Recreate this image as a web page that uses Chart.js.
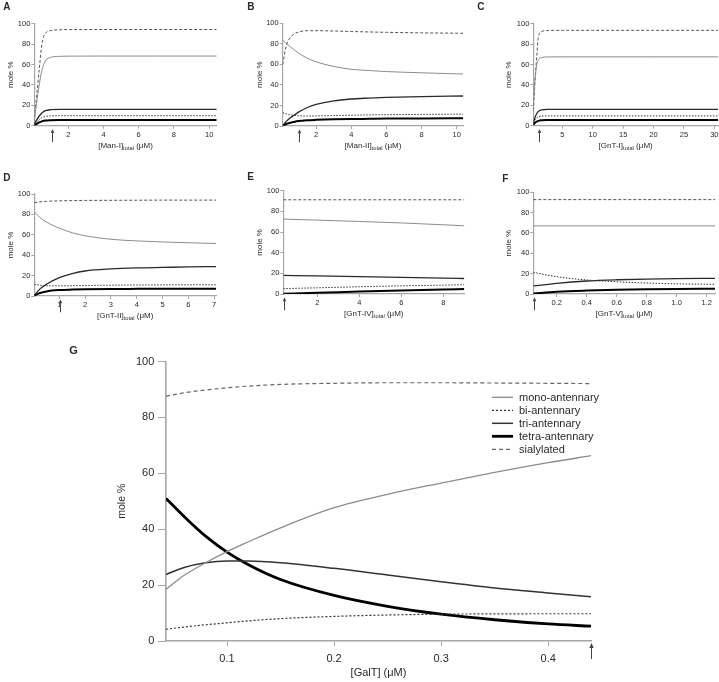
<!DOCTYPE html>
<html>
<head>
<meta charset="utf-8">
<script src="https://cdn.jsdelivr.net/npm/chart.js@4.4.1/dist/chart.umd.min.js"></script>
<style>
  body { margin: 0; background: #fff; }
  #wrap { position: relative; width: 719px; height: 682px; overflow: hidden; }
  canvas { position: absolute; }
</style>
</head>
<body>
<div id="wrap"></div>
<script>
// ---- data (mole %) ----
const seriesNames = ['mono-antennary', 'bi-antennary', 'tri-antennary', 'tetra-antennary', 'sialylated'];
const yTicks = [0, 20, 40, 60, 80, 100];

// A: Man-I
const aX     = [0.07, 0.2, 0.35, 0.5, 0.7, 1.0, 1.5, 2, 4, 7, 10.43];
const aMono  = [5, 22, 40, 54, 63.5, 67, 68, 68.2, 68.3, 68.3, 68.3];
const aBi    = [1, 3.5, 6, 7.8, 9, 9.6, 9.8, 9.8, 9.8, 9.8, 9.8];
const aTri   = [1.5, 5.5, 9.5, 12.5, 14.7, 15.7, 16, 16, 16, 16, 16];
const aTetra = [0.5, 1.8, 3.2, 4.2, 5, 5.4, 5.6, 5.6, 5.6, 5.6, 5.6];
const aSial  = [8, 28, 55, 80, 90.5, 93.2, 94, 94.2, 94.3, 94.3, 94.3];
const aTicks = [2, 4, 6, 8, 10];

// B: Man-II
const bX     = [0.1, 0.3, 0.5, 0.7, 1.0, 1.5, 2, 3, 4, 5, 6, 8, 10.37];
const bMono  = [83.5, 80.5, 77.5, 75, 71, 66, 62.5, 58, 55.2, 54, 53, 51.8, 50.6];
const bBi    = [13, 12, 11, 10.5, 10, 9.7, 9.8, 10.2, 10.5, 10.8, 11, 11.3, 11.5];
const bTri   = [0.5, 4.5, 7.5, 10, 13.5, 18, 21, 24.5, 26.3, 27.2, 27.9, 28.7, 29.2];
const bTetra = [0.5, 2, 3, 3.8, 4.8, 5.6, 6, 6.5, 6.8, 7, 7.2, 7.4, 7.5];
const bSial  = [60, 78, 85.5, 89, 91.5, 92.8, 92.8, 92.5, 92, 91.6, 91.2, 90.7, 90.3];
const bTicks = [2, 4, 6, 8, 10];

// C: GnT-I
const cX     = [0.23, 0.5, 0.8, 1.06, 1.6, 2.5, 5, 10, 20, 30.6];
const cMono  = [22, 45, 60, 64.5, 66.8, 67.4, 67.5, 67.5, 67.5, 67.5];
const cBi    = [2.5, 5.5, 7.8, 8.8, 9.5, 9.6, 9.6, 9.6, 9.6, 9.6];
const cTri   = [3, 8, 12, 14, 15.5, 16, 16, 16, 16, 16];
const cTetra = [1, 2.8, 4, 4.7, 5.3, 5.5, 5.5, 5.5, 5.5, 5.5];
const cSial  = [15, 42, 68, 87, 92.3, 93.3, 93.5, 93.5, 93.5, 93.5];
const cTicks = [5, 10, 15, 20, 25, 30];

// D: GnT-II
const dX     = [0.03, 0.25, 0.5, 1, 1.5, 2, 3, 4, 5, 6, 7.07];
const dMono  = [82.5, 77, 72.5, 66.5, 62, 59, 55.6, 54, 53, 52.2, 51.5];
const dBi    = [11.5, 10.6, 10.1, 10, 10.1, 10.3, 10.6, 10.8, 10.9, 11, 11];
const dTri   = [0.5, 7, 11.5, 18, 22, 24.5, 26.5, 27.5, 28, 28.5, 28.8];
const dTetra = [0.5, 3, 4.5, 5.8, 6.3, 6.6, 6.9, 7, 7.1, 7.2, 7.2];
const dSial  = [91.5, 92.3, 92.8, 93.3, 93.5, 93.7, 93.8, 93.9, 94, 94, 94];
const dTicks = [1, 2, 3, 4, 5, 6, 7];

// E: GnT-IV
const eX     = [0.38, 2, 4, 6, 8, 9];
const eMono  = [72.5, 71.5, 70.2, 68.8, 67, 66];
const eBi    = [5.2, 6, 7, 7.9, 8.6, 9];
const eTri   = [18, 17.6, 16.9, 16.1, 15.3, 15];
const eTetra = [0.3, 1.2, 2.4, 3.5, 4.4, 4.8];
const eSial  = [91.2, 91.2, 91.2, 91.2, 91.2, 91.2];
const eTicks = [2, 4, 6, 8];

// F: GnT-V
const fX     = [0.044, 0.2, 0.4, 0.6, 0.8, 1.0, 1.255];
const fMono  = [67, 67, 67, 67, 67, 67, 67];
const fBi    = [21.3, 17, 13.8, 12, 10.8, 10, 9.5];
const fTri   = [7.9, 10.5, 12.8, 14, 14.7, 15.1, 15.4];
const fTetra = [0.5, 2.2, 3.4, 4.2, 4.7, 5, 5.2];
const fSial  = [92.8, 92.8, 92.8, 92.8, 92.8, 92.8, 92.8];
const fTicks = [0.2, 0.4, 0.6, 0.8, 1.0, 1.2];

// G: GalT
const gX     = [0.043, 0.06, 0.08, 0.1, 0.12, 0.15, 0.2, 0.25, 0.3, 0.35, 0.4, 0.44];
const gMono  = [18.5, 23.5, 28, 32, 35.5, 40.5, 47.7, 52.5, 56.5, 60.3, 63.8, 66.3];
const gBi    = [4.2, 5.0, 5.8, 6.5, 7.2, 8.0, 8.8, 9.3, 9.6, 9.7, 9.75, 9.75];
const gTri   = [23.8, 26.3, 28, 28.6, 28.6, 28, 26, 23.6, 21.2, 19, 17.2, 15.8];
const gTetra = [51, 44.5, 37.5, 31.8, 27.3, 22, 16.3, 12.4, 9.6, 7.6, 6.1, 5.3];
const gSial  = [87.6, 88.8, 89.8, 90.6, 91.2, 91.8, 92.2, 92.4, 92.4, 92.3, 92.2, 92.1];
const gTicks = [0.1, 0.2, 0.3, 0.4];

const FONT = '"Liberation Sans", Arial, Helvetica, sans-serif';
const AXIS = '#a6a6a6';
const INK = '#2a2a2a';

// line looks for small panels and for G
const smallStyle = [
  { color: '#8c8c8c', width: 1,   dash: [] },
  { color: '#333',    width: 1,   dash: [1.5, 1.5] },
  { color: '#2a2a2a', width: 1.3, dash: [] },
  { color: '#000',    width: 2,   dash: [] },
  { color: '#555',    width: 1,   dash: [3, 2] },
];
const bigStyle = [
  { color: '#8c8c8c', width: 1.3, dash: [] },
  { color: '#333',    width: 1.2, dash: [2, 2] },
  { color: '#333',    width: 1.5, dash: [] },
  { color: '#000',    width: 2.8, dash: [] },
  { color: '#666',    width: 1.2, dash: [4, 3] },
];

// box = canvas [left, top, width, height]; area = plot rect in page coords
const panels = [
  { letter: 'A', name: 'Man-I',  xs: aX, ys: [aMono, aBi, aTri, aTetra, aSial], ticks: aTicks, min: 0.07, max: 10.43, arrow: 1.06,
    box: [0, 0, 235, 170], area: [34.3, 23.7, 216.7, 125.7], letterPos: [3.3, 10], yTitleX: 11 },
  { letter: 'B', name: 'Man-II', xs: bX, ys: [bMono, bBi, bTri, bTetra, bSial], ticks: bTicks, min: 0.1, max: 10.37, arrow: 1.05,
    box: [235, 0, 235, 170], area: [282.7, 23.3, 463.3, 126], letterPos: [12.3, 9.5], yTitleX: 25 },
  { letter: 'C', name: 'GnT-I',  xs: cX, ys: [cMono, cBi, cTri, cTetra, cSial], ticks: cTicks, min: 0.23, max: 30.6, arrow: 1.17,
    box: [470, 0, 249, 170], area: [533.3, 23.7, 718, 125.7], letterPos: [7.3, 9.7], yTitleX: 39 },
  { letter: 'D', name: 'GnT-II', xs: dX, ys: [dMono, dBi, dTri, dTetra, dSial], ticks: dTicks, min: 0.03, max: 7.07, arrow: 1.03,
    box: [0, 170, 235, 170], area: [34.3, 194, 216, 296], letterPos: [3.3, 10.7], yTitleX: 11 },
  { letter: 'E', name: 'GnT-IV', xs: eX, ys: [eMono, eBi, eTri, eTetra, eSial], ticks: eTicks, min: 0.38, max: 9.0, arrow: 0.4,
    box: [235, 170, 235, 170], area: [283.3, 190.7, 464.3, 294], letterPos: [12.3, 10], yTitleX: 25 },
  { letter: 'F', name: 'GnT-V',  xs: fX, ys: [fMono, fBi, fTri, fTetra, fSial], ticks: fTicks, min: 0.044, max: 1.255, arrow: 0.05, dec: 1,
    box: [470, 170, 249, 170], area: [533.3, 192.3, 715, 294], letterPos: [32.3, 11.7], yTitleX: 39 },
  { letter: 'G', name: 'GalT', sub: '', xs: gX, ys: [gMono, gBi, gTri, gTetra, gSial], ticks: gTicks, min: 0.043, max: 0.44, arrow: 0.44, dec: 1,
    box: [0, 340, 719, 342], area: [166, 361.5, 591, 641], letterPos: [69.3, 14], yTitleX: 122, big: true, legend: true },
];

const extras = {
  id: 'extras',
  afterDraw(chart, args, o) {
    const { ctx, chartArea: a } = chart;
    const x = chart.scales.x;
    const fs = o.big ? 11 : 8;
    ctx.save();
    ctx.fillStyle = INK;

    // panel letter
    ctx.font = `bold ${o.big ? 11 : 10}px ${FONT}`;
    ctx.textAlign = 'left';
    ctx.textBaseline = 'alphabetic';
    ctx.fillText(o.letter, o.letterPos[0], o.letterPos[1]);

    // y title
    ctx.font = `${o.big ? 10.5 : 8}px ${FONT}`;
    ctx.textAlign = 'center';
    ctx.textBaseline = 'middle';
    ctx.save();
    ctx.translate(o.yTitleX, (a.top + a.bottom) / 2);
    ctx.rotate(-Math.PI / 2);
    ctx.fillText('mole %', 0, 0);
    ctx.restore();

    // x title: [name] with subscript "total", then (μM)
    const parts = [
      { t: '[' + o.name + ']', size: fs, dy: 0 },
      { t: o.sub, size: fs * 0.72, dy: fs * 0.3 },
      { t: ' (μM)', size: fs, dy: 0 },
    ];
    let total = 0;
    parts.forEach(p => { ctx.font = `${p.size}px ${FONT}`; p.w = ctx.measureText(p.t).width; total += p.w; });
    let cx = (a.left + a.right) / 2 - total / 2;
    const ty = a.bottom + (o.big ? 32 : 20);
    ctx.textAlign = 'left';
    parts.forEach(p => {
      ctx.font = `${p.size}px ${FONT}`;
      ctx.fillText(p.t, cx, ty + p.dy);
      cx += p.w;
    });

    // arrow marking the reference level
    const px = Math.round(x.getPixelForValue(o.arrow)) + 0.5;
    const y0 = a.bottom + (o.big ? 2 : 3.3);
    const y1 = a.bottom + (o.big ? 18 : 16.3);
    const hw = o.big ? 2.2 : 1.7, hh = o.big ? 5 : 4;
    ctx.strokeStyle = '#444';
    ctx.fillStyle = '#444';
    ctx.lineWidth = 1;
    ctx.beginPath();
    ctx.moveTo(px, y0 + hh - 1);
    ctx.lineTo(px, y1);
    ctx.stroke();
    ctx.beginPath();
    ctx.moveTo(px, y0);
    ctx.lineTo(px - hw, y0 + hh);
    ctx.lineTo(px + hw, y0 + hh);
    ctx.closePath();
    ctx.fill();

    // legend
    if (o.legend) {
      ctx.font = `11px ${FONT}`;
      ctx.textBaseline = 'middle';
      chart.data.datasets.forEach((ds, i) => {
        const ly = 57.3 + 13 * i;
        ctx.strokeStyle = ds.borderColor;
        ctx.lineWidth = ds.borderWidth;
        ctx.setLineDash(ds.borderDash || []);
        ctx.beginPath();
        ctx.moveTo(492, ly);
        ctx.lineTo(513, ly);
        ctx.stroke();
        ctx.setLineDash([]);
        ctx.fillStyle = INK;
        ctx.fillText(ds.label, 519, ly + 0.5);
      });
    }
    ctx.restore();
  }
};

const wrap = document.getElementById('wrap');

panels.forEach(p => {
  const [bl, bt, bw, bh] = p.box;
  const [al, at, ar, ab] = p.area;
  const canvas = document.createElement('canvas');
  canvas.width = bw;
  canvas.height = bh;
  canvas.style.left = bl + 'px';
  canvas.style.top = bt + 'px';
  wrap.appendChild(canvas);

  const styles = p.big ? bigStyle : smallStyle;
  const tickFont = { family: FONT, size: p.big ? 11 : 7.5 };

  const datasets = p.ys.map((ys, i) => ({
    label: seriesNames[i],
    data: p.xs.map((x, j) => ({ x, y: ys[j] })),
    borderColor: styles[i].color,
    borderWidth: styles[i].width,
    borderDash: styles[i].dash,
    cubicInterpolationMode: 'monotone',
    pointRadius: 0,
    fill: false,
  }));

  new Chart(canvas.getContext('2d'), {
    type: 'line',
    data: { datasets },
    options: {
      responsive: false,
      animation: false,
      devicePixelRatio: 1,
      layout: {
        autoPadding: false,
        padding: { left: 0, top: at - bt, right: bl + bw - ar, bottom: 0 },
      },
      plugins: {
        legend: { display: false },
        tooltip: { enabled: false },
        extras: {
          letter: p.letter, name: p.name, sub: p.sub === undefined ? 'total' : p.sub,
          arrow: p.arrow, big: !!p.big, legend: !!p.legend,
          letterPos: p.letterPos, yTitleX: p.yTitleX,
        },
      },
      scales: {
        x: {
          type: 'linear',
          min: p.min,
          max: p.max,
          afterBuildTicks: s => { s.ticks = p.ticks.map(v => ({ value: v })); },
          afterFit: s => { s.height = bt + bh - ab; s.paddingLeft = 0; s.paddingRight = 0; },
          ticks: {
            font: tickFont, color: INK, padding: p.big ? 6.4 : 1.8,
            maxRotation: 0, autoSkip: false,
            callback: v => p.dec ? v.toFixed(p.dec) : String(v),
          },
          grid: { drawOnChartArea: false, drawTicks: true, tickLength: p.big ? 5 : 3, color: AXIS, lineWidth: 1 },
          border: { display: true, color: AXIS, width: p.big ? 1.6 : 1.2 },
        },
        y: {
          min: 0,
          max: 100,
          afterBuildTicks: s => { s.ticks = yTicks.map(v => ({ value: v })); },
          afterFit: s => { s.width = al - bl; s.paddingTop = 0; s.paddingBottom = 0; },
          ticks: { font: tickFont, color: INK, padding: p.big ? 3.7 : 1 },
          grid: { drawOnChartArea: false, drawTicks: true, tickLength: p.big ? 8 : 3, color: AXIS, lineWidth: 1 },
          border: { display: true, color: AXIS, width: p.big ? 1.6 : 1.2 },
        },
      },
    },
    plugins: [extras],
  });
});
</script>
</body>
</html>
